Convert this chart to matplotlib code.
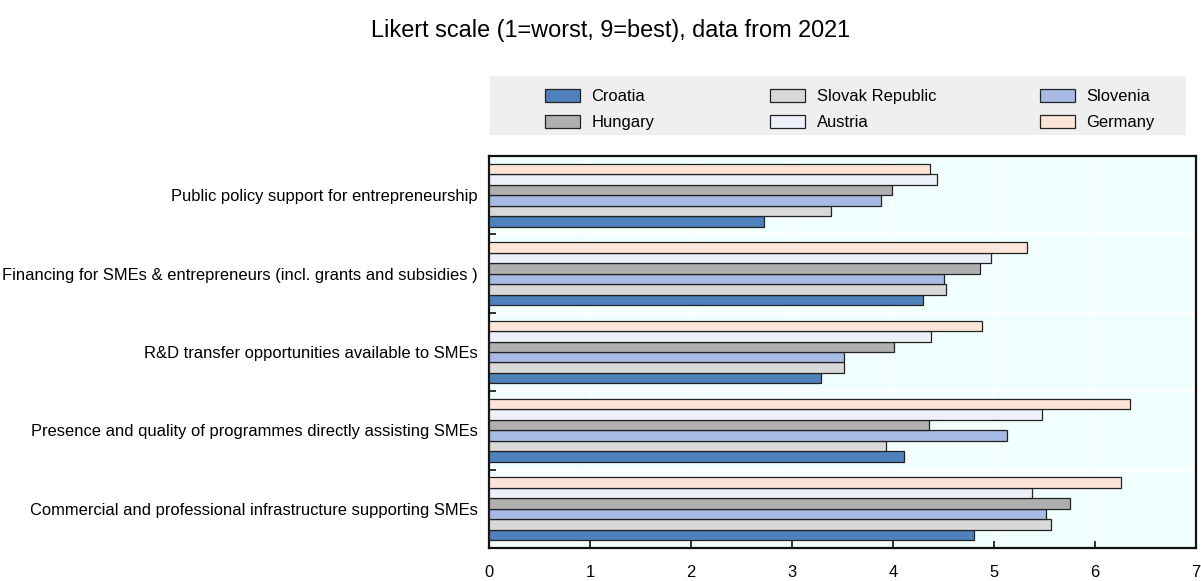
import matplotlib
matplotlib.use("Agg")
import matplotlib.pyplot as plt
import numpy as np
from matplotlib.patches import Rectangle

plt.rcParams['font.family'] = ['Liberation Sans', 'DejaVu Sans']

categories = [
    "Public policy support for entrepreneurship",
    "Financing for SMEs & entrepreneurs (incl. grants and subsidies )",
    "R&D transfer opportunities available to SMEs",
    "Presence and quality of programmes directly assisting SMEs",
    "Commercial and professional infrastructure supporting SMEs",
]
series_names = ["Croatia", "Slovak Republic", "Slovenia", "Hungary", "Austria", "Germany"]
croatia = [2.72, 4.30, 3.29, 4.11, 4.80]
slovak = [3.39, 4.52, 3.51, 3.93, 5.56]
slovenia = [3.88, 4.50, 3.51, 5.13, 5.51]
hungary = [3.99, 4.86, 4.01, 4.36, 5.75]
austria = [4.44, 4.97, 4.38, 5.48, 5.38]
germany = [4.37, 5.33, 4.88, 6.35, 6.26]
series_values = [croatia, slovak, slovenia, hungary, austria, germany]
colors = ["#4f81bd", "#d9d9d9", "#a7bae4", "#b0b0b0", "#eef0f9", "#fde5d9"]
xticks = [0, 1, 2, 3, 4, 5, 6, 7]

FS = 11.9

fig = plt.figure(figsize=(12.01, 5.81), dpi=100)
ax = fig.add_axes([489/1201, 1-548/581, (1196-489)/1201, (548-156)/581])
ax.set_facecolor("#f2ffff")

n = len(categories)
centers = np.arange(n)[::-1].astype(float)  # top category at highest y
h = 0.8 / 6
containers = []
for i, (name, vals, c) in enumerate(zip(series_names, series_values, colors)):
    y = centers - 0.4 + h * (i + 0.5)
    bc = ax.barh(y, vals, height=h, color=c, edgecolor="#222222", linewidth=0.9,
                 label=name, zorder=3)
    containers.append(bc)

ax.set_xlim(0, 7)
ax.set_ylim(-0.5, n - 0.5)
ax.set_xticks(xticks)
ax.set_xticklabels([str(t) for t in xticks], fontsize=FS)
ax.set_yticks(centers)
ax.set_yticklabels(categories, fontsize=FS)
ax.set_yticks(np.arange(n - 1) + 0.5, minor=True)
ax.tick_params(axis='y', which='major', length=0, pad=8)
ax.tick_params(axis='y', which='minor', direction='in', length=5, width=1.3, color="#222222")
ax.tick_params(axis='x', which='major', direction='in', length=5, width=1.3, pad=12, color="#222222")
ax.grid(True, axis='x', which='major', color='white', linewidth=1.5, zorder=0)
ax.grid(True, axis='y', which='minor', color='white', linewidth=1.5, zorder=0)
ax.set_axisbelow(True)
for s in ax.spines.values():
    s.set_linewidth(1.6)
    s.set_color("#111111")

fig.text(0.508, 1 - 31/581, "Likert scale (1=worst, 9=best), data from 2021",
         ha='center', va='center', fontsize=16.9)

# legend background
fig.patches.append(Rectangle((490/1201, 1-135/581), (1186-490)/1201, 59/581,
                             transform=fig.transFigure, facecolor="#efefef",
                             edgecolor='none', zorder=0))

handles = {name: bc for name, bc in zip(series_names, containers)}
cols = [("Croatia", "Hungary", 545), ("Slovak Republic", "Austria", 770), ("Slovenia", "Germany", 1040)]
for a, b, xpx in cols:
    leg = fig.legend([handles[a], handles[b]], [a, b], loc='upper left',
                     bbox_to_anchor=(xpx/1201, 1-89/581), ncol=1, frameon=False,
                     fontsize=FS, handlelength=2.1, handleheight=0.8,
                     handletextpad=0.72, labelspacing=0.66, borderpad=0, borderaxespad=0)

fig.savefig("out.png", dpi=100)
